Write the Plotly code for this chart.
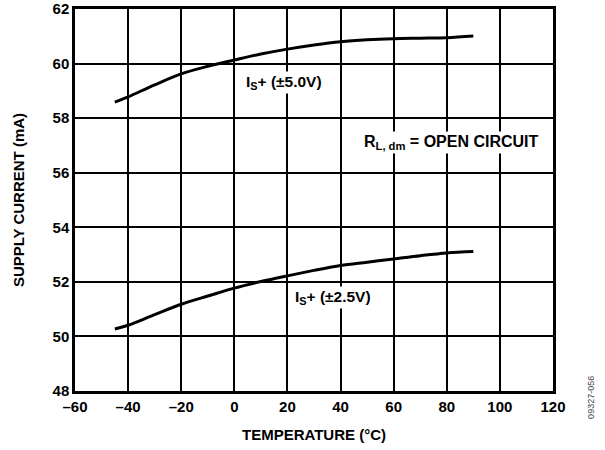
import plotly.graph_objects as go

temp = [-45, -40, -30, -20, -10, 0, 10, 20, 30, 40, 50, 60, 70, 80, 90]
is_5v = [58.59, 58.78, 59.22, 59.62, 59.90, 60.13, 60.35, 60.53, 60.68, 60.80, 60.87, 60.91, 60.93, 60.95, 61.01]
is_25v = [50.27, 50.41, 50.80, 51.18, 51.48, 51.77, 52.01, 52.22, 52.42, 52.60, 52.72, 52.84, 52.96, 53.06, 53.11]

x_ticks = [-60, -40, -20, 0, 20, 40, 60, 80, 100, 120]
x_labels = ["–60", "–40", "–20", "0", "20", "40", "60", "80", "100", "120"]
y_ticks = [48, 50, 52, 54, 56, 58, 60, 62]
y_labels = ["48", "50", "52", "54", "56", "58", "60", "62"]

FONT = "Liberation Sans, Arial, sans-serif"

fig = go.Figure()
fig.add_trace(go.Scatter(x=temp, y=is_5v, mode="lines", line=dict(color="black", width=3, shape="spline"), showlegend=False))
fig.add_trace(go.Scatter(x=temp, y=is_25v, mode="lines", line=dict(color="black", width=3, shape="spline"), showlegend=False))

ann_font = dict(family=FONT, size=15.5, color="black")
fig.add_annotation(x=18.8, y=59.29, text="<b>I<sub>S</sub>+ (±5.0V)</b>", showarrow=False, bgcolor="white", font=ann_font)
fig.add_annotation(x=81.6, y=57.09, text="<b>R<sub>L, dm</sub> = OPEN CIRCUIT</b>", showarrow=False, bgcolor="white",
                   font=dict(family=FONT, size=16, color="black"))
fig.add_annotation(x=37.2, y=51.41, text="<b>I<sub>S</sub>+ (±2.5V)</b>", showarrow=False, bgcolor="white", font=ann_font)
fig.add_annotation(xref="paper", yref="paper", x=1.0795, y=-0.018, xanchor="center", yanchor="middle",
                   text="09327-056", textangle=-90, showarrow=False,
                   font=dict(family=FONT, size=9, color="#444"))

fig.update_xaxes(range=[-60, 120], tickvals=x_ticks, ticktext=["<b>%s</b>" % t for t in x_labels],
                 showgrid=True, gridcolor="black", gridwidth=1.5, automargin=False,
                 showline=True, linecolor="black", linewidth=2.5, mirror=True, ticks="", zeroline=False,
                 tickfont=dict(family=FONT, size=15, color="black", weight="bold"),
                 title=dict(text="<b>TEMPERATURE (°C)</b>", font=dict(family=FONT, size=15, color="black"), standoff=16))
fig.update_yaxes(range=[48, 62], tickvals=y_ticks, ticktext=["<b>%s</b>" % t for t in y_labels],
                 showgrid=True, gridcolor="black", gridwidth=1.5, automargin=False,
                 showline=True, linecolor="black", linewidth=2.5, mirror=True, ticks="", zeroline=False,
                 tickfont=dict(family=FONT, size=15, color="black", weight="bold"),
                 title=dict(text="<b>SUPPLY CURRENT (mA)</b>", font=dict(family=FONT, size=15, color="black"), standoff=25))

fig.update_layout(width=605, height=450, margin=dict(l=75, r=52, t=9, b=59),
                  paper_bgcolor="white", plot_bgcolor="white")

fig.write_html("out.html", config={"displayModeBar": False},
               post_script="document.body.style.margin='0';")
